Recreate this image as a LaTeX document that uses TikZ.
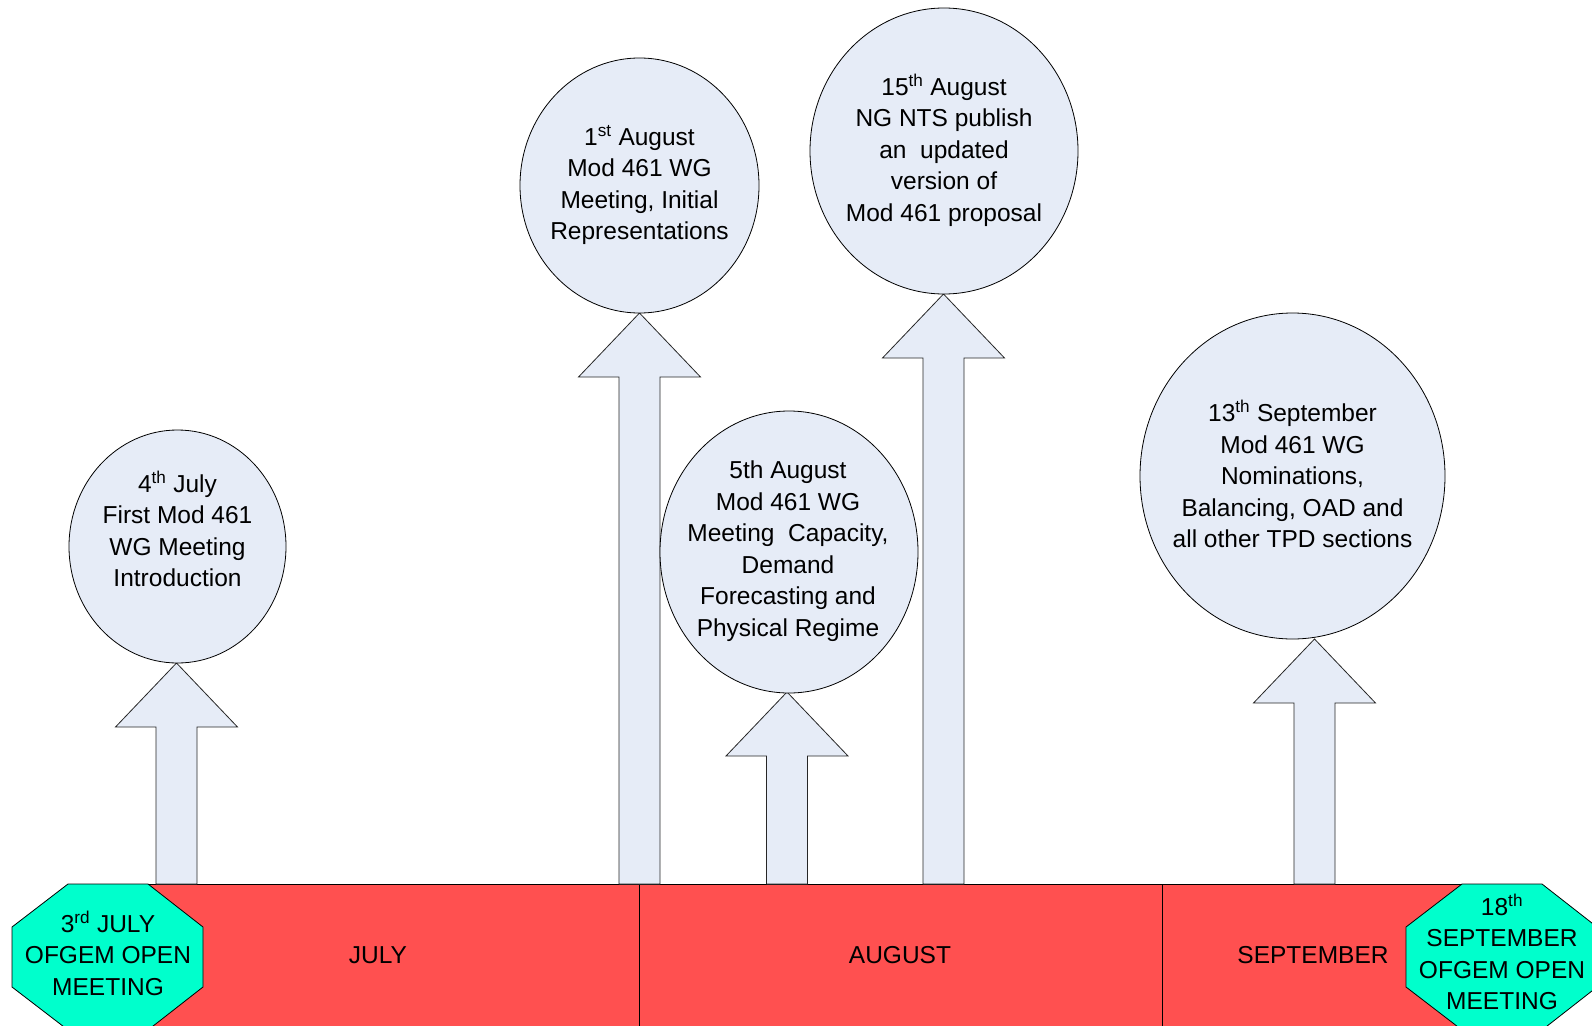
\documentclass[tikz,border=0pt]{standalone}
\usepackage{fontspec}
\setmainfont{Liberation Sans}
\usetikzlibrary{shapes.geometric}
\definecolor{bubblefill}{RGB}{230,236,247}
\definecolor{barred}{RGB}{255,80,80}
\definecolor{octafill}{RGB}{0,255,204}
\tikzset{
  bubble/.style={ellipse, draw=black, line width=0.8pt, fill=bubblefill, inner sep=0pt},
  btext/.style={align=center, font=\fontsize{24.5}{31.5}\selectfont, inner sep=0pt},
  blockarrow/.style={draw=black!85, line width=0.8pt, fill=bubblefill, line join=miter},
  barpart/.style={draw=black, line width=0.8pt, fill=barred},
  octa/.style={draw=black, line width=0.8pt, fill=octafill},
  divider/.style={draw=black, line width=0.8pt},
}
\newcommand\tlarrow[2]{% #1 shaft centre x, #2 tip y
  \draw[blockarrow] (#1-20.5,884) -- (#1-20.5,#2+64) -- (#1-61,#2+64) -- (#1,#2)
    -- (#1+61,#2+64) -- (#1+20.5,#2+64) -- (#1+20.5,884) -- cycle;}
\begin{document}
\begin{tikzpicture}[x=1pt,y=-1pt]
\useasboundingbox (0,0) rectangle (1592,1025);
% timeline bar
\draw[barpart] (140,884) rectangle (1470,1035);
\coordinate (d1t) at (639,884); \coordinate (d1b) at (639,1035);
\coordinate (d2t) at (1162,884); \coordinate (d2b) at (1162,1035);
\draw[divider] (d1t) -- (d1b);
\draw[divider] (d2t) -- (d2b);
\node[btext] (july) at (378,955) {JULY};
\node[btext] (august) at (900,955) {AUGUST};
\node[btext] (september) at (1313,955) {SEPTEMBER};
% octagons
\draw[octa] (68,884) -- (148,884) -- (203,927) -- (203,987) -- (148,1030) -- (68,1030)
  -- (12,987) -- (12,927) -- cycle;
\node[btext] (o1) at (108,953) {3\textsuperscript{rd} JULY\\OFGEM OPEN\\MEETING};
\draw[octa] (1462,884) -- (1542,884) -- (1597,927) -- (1597,987) -- (1542,1030) -- (1462,1030)
  -- (1406,987) -- (1406,927) -- cycle;
\node[btext] (o2) at (1502,952) {18\textsuperscript{th}\\SEPTEMBER\\OFGEM OPEN\\MEETING};
% arrows
\tlarrow{176.5}{663}
\tlarrow{639.5}{313}
\tlarrow{787}{692}
\tlarrow{943.5}{294}
\tlarrow{1314.5}{639}
% bubbles
\node[bubble, minimum width=217pt, minimum height=233pt] (c1) at (177.5,546.5) {};
\node[btext] (t1) at (177.5,529) {4\textsuperscript{th} July\\First Mod 461\\WG Meeting\\Introduction};
\node[bubble, minimum width=239pt, minimum height=255pt] (c2) at (639.5,185.5) {};
\node[btext] (t2) at (639.5,185) {1\textsuperscript{st} August\\Mod 461 WG\\Meeting, Initial\\Representations};
\node[bubble, minimum width=258pt, minimum height=282pt] (c3) at (789,552) {};
\node[btext] (t3) at (788,551) {5th August\\Mod 461 WG\\Meeting\ \ Capacity,\\Demand\\Forecasting and\\Physical Regime};
\node[bubble, minimum width=268pt, minimum height=286pt] (c4) at (944,151) {};
\node[btext] (t4) at (944,150) {15\textsuperscript{th} August\\NG NTS publish\\an\ \ updated\\version of\\Mod 461 proposal};
\node[bubble, minimum width=305pt, minimum height=326pt] (c5) at (1292.5,476) {};
\node[btext] (t5) at (1292.5,474) {13\textsuperscript{th} September\\Mod 461 WG\\Nominations,\\Balancing, OAD and\\all other TPD sections};
\end{tikzpicture}
\end{document}
